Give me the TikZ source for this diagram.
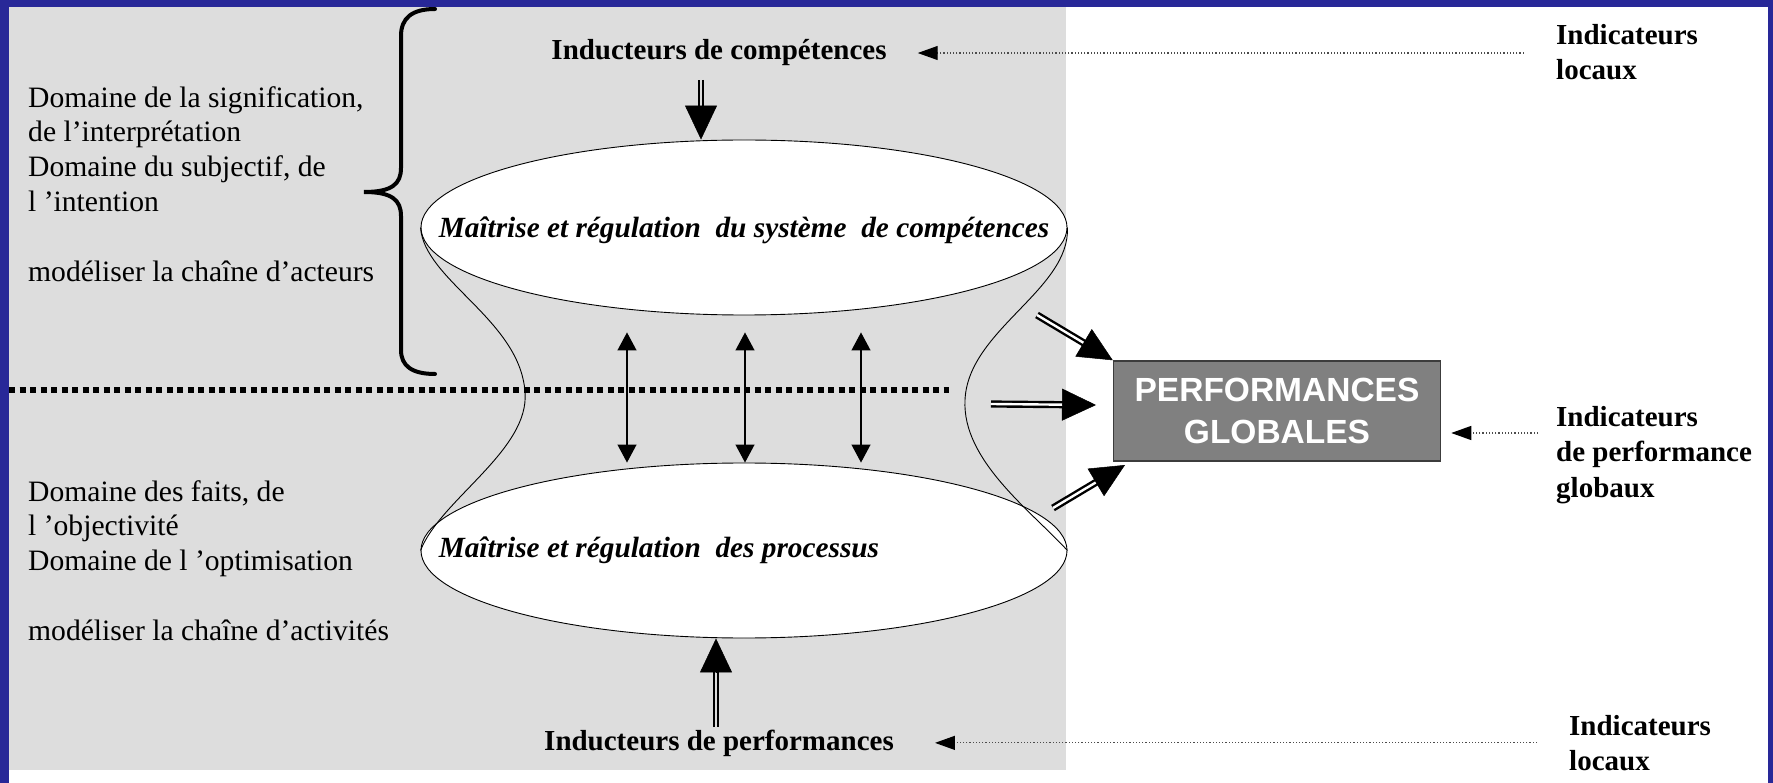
\documentclass[tikz,border=0pt]{standalone}
\usepackage{fontspec}
\setmainfont{Liberation Serif}
\newfontfamily\arialfont{Liberation Sans}
\usepackage{xcolor}
\usetikzlibrary{arrows.meta, positioning, shapes.geometric, calc}
\definecolor{slideblue}{RGB}{40,40,152}
\definecolor{panelgray}{RGB}{221,221,221}
\definecolor{boxgray}{RGB}{128,128,128}
\definecolor{boxedge}{RGB}{60,60,60}
\tikzset{
	every node/.style={
		align=center,
	},
}
\tikzstyle{domain text} = [font=\fontsize{29.6}{34.8}\selectfont, align=left, inner sep=0pt, anchor=north west]
\tikzstyle{inducer} = [font=\bfseries\fontsize{29}{35}\selectfont, inner sep=0pt, anchor=base]
\tikzstyle{indicator} = [font=\bfseries\fontsize{29}{35}\selectfont, align=left, inner sep=0pt, anchor=north west]
\tikzstyle{mastery} = [ellipse, draw, fill=white, line width=0.9pt, minimum width=646pt, minimum height=175pt, inner sep=0pt]
\tikzstyle{mastery text} = [font=\bfseries\itshape\fontsize{29.3}{35}\selectfont, inner sep=0pt]
\tikzstyle{result} = [draw=boxedge, fill=boxgray, line width=1.5pt, text=white, font=\arialfont\bfseries\fontsize{33.5}{42}\selectfont, minimum width=327pt, minimum height=100pt, inner sep=0pt]
\tikzstyle{feedback} = [dash pattern=on 1.2pt off 2pt, line width=1.2pt, draw=black!70, -{Triangle[length=20pt,width=14pt,color=black]}]
\tikzstyle{exchange} = [line width=1.2pt, {Triangle[length=18pt,width=19pt]}-{Triangle[length=18pt,width=19pt]}]
\tikzstyle{fatshaft} = [double=white, double distance=2.4pt, line width=2.4pt]
\tikzstyle{fathead} = [line width=0.5pt, -{Triangle[length=34pt,width=32pt]}]
\tikzstyle{hull} = [line width=0.9pt]
\tikzstyle{bracket} = [line width=4pt, line cap=round]
\tikzstyle{splitline} = [line width=6pt, dash pattern=on 6pt off 4.5pt]

\begin{document}
\begin{tikzpicture}[x=1pt, y=-1pt]
    \useasboundingbox (0,0) rectangle (1773,783);
    % slide frame and shaded panel
    \fill [slideblue] (0,0) rectangle (1773,783);
    \fill [white] (9,7) rectangle (1768,783);
    \fill [panelgray] (9,7) rectangle (1066,770);

    \node (sig) [domain text] at (28,86) {Domaine de la signification,\\de l’interprétation\\Domaine du subjectif, de\\l ’intention\\[34.8pt]modéliser la chaîne d’acteurs};
    \node (fai) [domain text] at (28,480) {Domaine des faits, de\\l ’objectivité\\Domaine de l ’optimisation\\[34.8pt]modéliser la chaîne d’activités};

    \draw [bracket] (435,9) .. controls (412,9) and (401,18) .. (401,36) -- (401,168) .. controls (401,184) and (392,192) .. (364,192) .. controls (392,192) and (401,200) .. (401,216) -- (401,350) .. controls (401,366) and (412,374) .. (435,374);

    \node (sysc) [mastery] at (744,227.5) {};
    \node (proc) [mastery] at (744,550.5) {};
    \node (sysct) [mastery text] at ([yshift=-3pt]sysc.center) {Maîtrise et régulation\ \ du système\ \ de compétences};
    \node (proct) [mastery text, right=18pt of proc.west] {Maîtrise et régulation\ \ des processus};

    \draw [hull] (sysc.west) .. controls (424,280) and (520,320) .. (525,392) .. controls (530,450) and (440,500) .. (proc.west);
    \draw [hull] (sysc.east) .. controls (1070,290) and (968,330) .. (965,400) .. controls (962,460) and (1030,510) .. (proc.east);

    \draw [splitline] (9,390) -- (949,390);

    \foreach \dx in {-117,1,117}
        \draw [exchange] ([xshift=\dx pt, yshift=-17pt]sysc.south) -- ([xshift=\dx pt]proc.north);

    \node (indc) [inducer] at (719,60) {Inducteurs de compétences};
    \node (indp) [inducer] at (719,750) {Inducteurs de performances};

    \coordinate (cin) at (701,80);
    \coordinate (ctip) at (cin |- sysc.north);
    \draw [fatshaft, double=panelgray, line width=2.3pt, double distance=2pt, shorten >=32pt] (cin) -- (ctip);
    \draw [fathead] ($(ctip)!34pt!(cin)$) -- (ctip);

    \coordinate (pin) at (716,727);
    \coordinate (ptip) at (pin |- proc.south);
    \draw [fatshaft, double=panelgray, line width=2.3pt, double distance=2pt, shorten >=32pt] (pin) -- (ptip);
    \draw [fathead] ($(ptip)!34pt!(pin)$) -- (ptip);

    \node (perf) [result] at (1277,411) {PERFORMANCES\\GLOBALES};

    \coordinate (f1) at (1037,315);
    \coordinate (f2) at (991,404);
    \coordinate (f2t) at (1096,405);
    \coordinate (f3) at (1053,508);
    \coordinate (f3t) at (1125,465);
    \foreach \a/\b in {f1/perf.north west, f2/f2t, f3/f3t} {
        \draw [fatshaft, shorten >=31pt] (\a) -- (\b);
        \draw [fathead] ($(\b)!33pt!(\a)$) -- (\b);
    }

    \node (ilh) [indicator] at (1556,24) {Indicateurs\\locaux};
    \node (ilg) [indicator, font=\bfseries\fontsize{29}{35.5}\selectfont] at (1556,406) {Indicateurs\\de performance\\globaux};
    \node (ilb) [indicator] at (1569,715) {Indicateurs\\locaux};

    \draw [feedback] ([xshift=637pt]indc.east) -- ([xshift=31pt]indc.east);
    \coordinate (gtail) at (1538,433);
    \draw [feedback, shorten >=10pt] (gtail) -- (gtail -| perf.east);
    \draw [feedback] ([xshift=643pt]indp.east) -- ([xshift=41pt]indp.east);
\end{tikzpicture}
\end{document}
